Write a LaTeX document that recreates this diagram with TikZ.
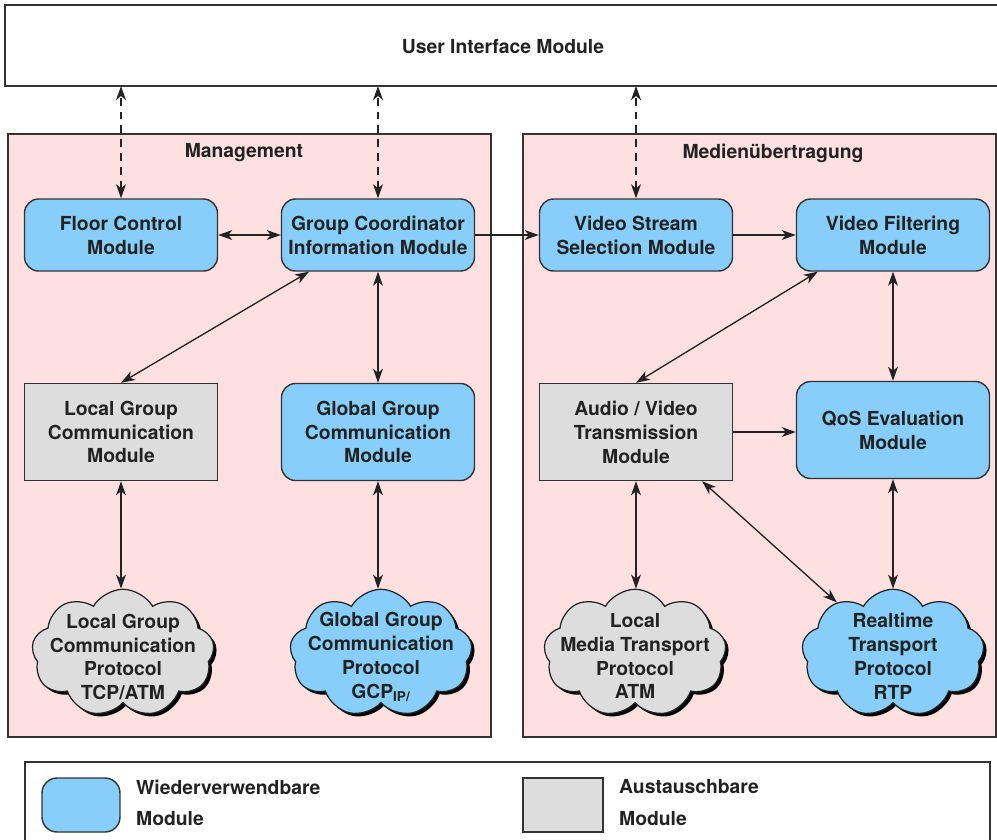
\documentclass[tikz,border=0pt]{standalone}
\usepackage{fontspec}
\setmainfont{TeX Gyre Heros}
\usetikzlibrary{shapes.symbols,shadows,arrows.meta,calc}
\definecolor{modblue}{RGB}{135,206,250}
\definecolor{modgray}{RGB}{221,221,221}
\definecolor{areapink}{RGB}{255,224,224}
\definecolor{ink}{RGB}{34,34,34}
\definecolor{framec}{RGB}{51,51,51}

\begin{document}
\begin{tikzpicture}[x=0.02cm,y=-0.02cm,
  txt/.style={font=\fontsize{11}{13.6}\selectfont\bfseries, text=ink, align=center},
  reusemod/.style={txt, draw=framec, line width=0.8pt, fill=modblue,
    rounded corners=0.28cm, minimum width=3.86cm, inner sep=0pt},
  exmod/.style={txt, draw=framec, line width=0.8pt, fill=modgray,
    minimum width=3.86cm, inner sep=0pt},
  toprow/.style={minimum height=1.44cm},
  midrow/.style={minimum height=1.94cm},
  area/.style={draw=framec, line width=1.1pt, fill=areapink},
  cloudmod/.style={shape=cloud, cloud puffs=9, cloud puff arc=120, aspect=1.45,
    minimum width=3.65cm, minimum height=2.55cm, draw=ink, line width=0.7pt,
    inner sep=0pt,
    drop shadow={opacity=1, fill=black, shadow xshift=0.06cm, shadow yshift=-0.06cm}},
  tip/.tip={Stealth[length=8pt,width=5.6pt,inset=2.3pt]},
  link/.style={draw=ink, line width=0.75pt, -tip},
  bi/.style={draw=ink, line width=0.75pt, tip-tip},
  dashlink/.style={bi, dash pattern=on 4.5pt off 3.4pt}
]
\useasboundingbox (0,0) rectangle (997,839);

% user interface strip
\draw[draw=framec, line width=1.1pt, fill=white] (5,5) rectangle (1005,86);
\node[txt] (ui) at (503,47) {User Interface Module};
\coordinate (uib) at (503,86);

% the two areas
\draw[area] (8,134) rectangle (491,737);
\draw[area] (523,134) rectangle (996,737);
\node[txt] (mgmt) at (244,153) {Management};
\node[txt] (media) at (773,153) {Medienübertragung};

% modules, top row
\node[reusemod, toprow] (fc) at (121,235) {Floor Control\\Module};
\node[reusemod, toprow] (gc) at (378,235) {Group Coordinator\\Information Module};
\node[reusemod, toprow] (vs) at (636,235) {Video Stream\\Selection Module};
\node[reusemod, toprow] (vf) at (893,235) {Video Filtering\\Module};

% modules, middle row
\node[exmod, midrow] (lgm) at (121,432) {Local Group\\Communication\\Module};
\node[reusemod, midrow] (ggm) at (378,432) {Global Group\\Communication\\Module};
\node[exmod, midrow] (avt) at (636,432) {Audio / Video\\Transmission\\Module};
\node[reusemod, midrow] (qos) at (893,430) {QoS Evaluation\\Module};

% protocol clouds
\node[cloudmod, fill=modgray] (lgp) at (123,653) {};
\node[cloudmod, fill=modblue] (ggp) at (381,653) {};
\node[cloudmod, fill=modgray] (lmp) at (635,653) {};
\node[cloudmod, fill=modblue] (rtp) at (893,653) {};
\node[txt] (lgpt) at (lgp.center) [yshift=-0.08cm] {Local Group\\Communication\\Protocol\\TCP/ATM};
\node[txt] (ggpt) at (ggp.center) [yshift=-0.08cm] {Global Group\\Communication\\Protocol\\GCP\textsubscript{IP/}};
\node[txt] (lmpt) at (lmp.center) [yshift=-0.06cm] {Local\\Media Transport\\Protocol\\ATM};
\node[txt] (rtpt) at (rtp.center) [yshift=-0.06cm] {Realtime\\Transport\\Protocol\\RTP};

% links to the user interface
\draw[dashlink] (fc.north) -- (fc.north |- uib);
\draw[dashlink] (gc.north) -- (gc.north |- uib);
\draw[dashlink] (vs.north) -- (vs.north |- uib);

% links between modules
\draw[bi] (fc.east) -- (gc.west);
\draw[link] (gc.east) -- (vs.west);
\draw[link] (vs.east) -- (vf.west);
\draw[bi] ($(gc.south west)!0.145!(gc.south east)$) -- (lgm.north);
\draw[bi] (gc.south) -- (ggm.north);
\draw[bi] ($(vf.south west)!0.113!(vf.south east)$) -- (avt.north);
\draw[bi] (vf.south) -- (qos.north);
\draw[link] (avt.east) -- (avt.east -| qos.west);

% links down to the protocols
\draw[bi] (lgm.south) -- (lgm.south |- lgp.north);
\draw[bi] (ggm.south) -- (ggm.south |- ggp.north);
\draw[bi] (avt.south) -- (avt.south |- lmp.north);
\draw[bi] ($(avt.south west)!0.84!(avt.south east)$) -- (rtp.138);
\draw[bi] (qos.south) -- (qos.south |- rtp.north);

% legend
\draw[draw=framec, line width=0.9pt, fill=white] (25,762) rectangle (990,850);
\node[draw=framec, line width=0.8pt, fill=modblue, rounded corners=0.3cm,
  minimum width=1.56cm, minimum height=1.08cm] (lgblue) at (81,805) {};
\node[draw=framec, line width=0.8pt, fill=modgray,
  minimum width=1.6cm, minimum height=1.08cm] (lggray) at (563,805) {};
\node[txt, anchor=west] (lg1) at (130,787) {Wiederverwendbare};
\node[txt, anchor=west] (lg2) at (130,819) {Module};
\node[txt, anchor=west] (lg3) at (613,787) {Austauschbare};
\node[txt, anchor=west] (lg4) at (613,819) {Module};
\end{tikzpicture}
\end{document}
